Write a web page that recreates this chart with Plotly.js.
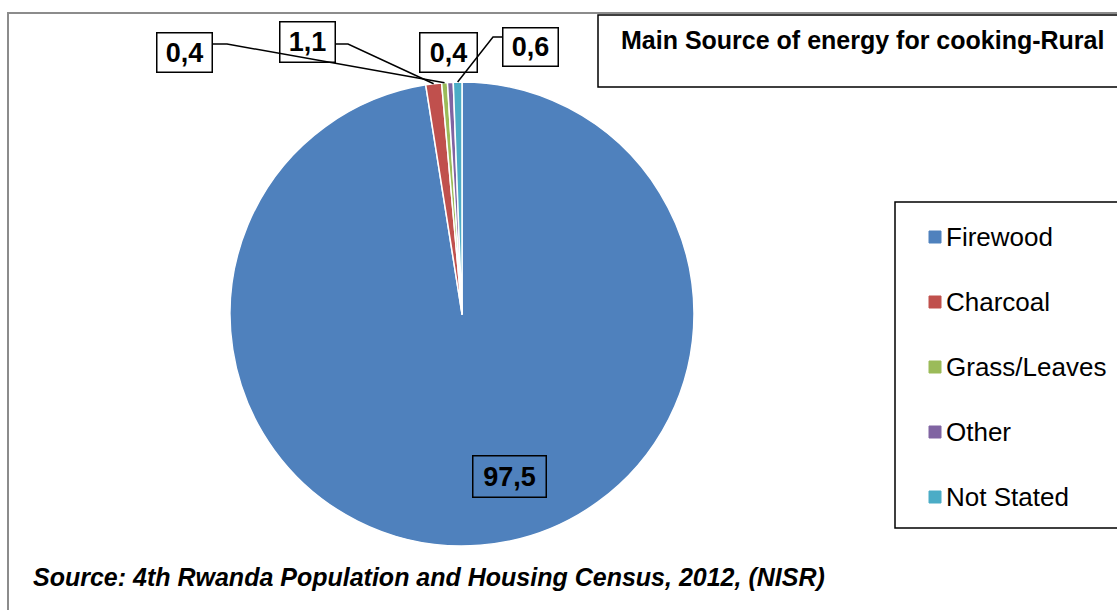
<!DOCTYPE html>
<html>
<head>
<meta charset="utf-8">
<script src="https://cdn.plot.ly/plotly-3.0.1.min.js"></script>
<style>html,body{margin:0;padding:0;background:#fff;}#chart{width:1117px;height:610px;}</style>
</head>
<body>
<div id="chart"></div>
<script>
// ---- data ----
const categories = ['Firewood', 'Charcoal', 'Grass/Leaves', 'Other', 'Not Stated'];
const values = [97.5, 1.1, 0.4, 0.4, 0.6];
const colors = ['#4F81BD', '#C0504D', '#9BBB59', '#8064A2', '#4BACC6'];
const titleText = 'Main Source of energy for cooking-Rural';
const sourceText = 'Source: 4th Rwanda Population and Housing Census, 2012, (NISR)';

// ---- layout (pixel positions) ----
const W = 1117, H = 610;
const pieCx = 462, pieCy = 314, pieR = 232;
const labelBoxX = [509.5, 307, 184, 448, 530];
const labelBoxY = [476, 42, 52, 52, 47];
const labelW = [70, 52, 52, 54, 52];
const labelH = [38, 37, 36, 36, 35];
// leader line start (box edge) and elbow points; null = no leader
const leaderStart = [null, [335, 44], [213, 44], null, [503, 37]];
const leaderElbow = [null, [348, 44], [227, 44], null, [493, 37]];

const px = x => x / W;
const py = y => 1 - y / H;
const fmt = v => String(v).replace('.', ',');
const FONT = 'Liberation Sans, Arial, sans-serif';

const total = values.reduce((a, b) => a + b, 0);
let cum = 0;
const annotations = [];
const shapes = [
  {type: 'rect', xref: 'paper', yref: 'paper', x0: px(8), y0: py(13), x1: px(1130), y1: py(625),
   line: {color: '#8c8c8c', width: 2}, fillcolor: 'rgba(0,0,0,0)', layer: 'below'},
  {type: 'rect', xref: 'paper', yref: 'paper', x0: px(598), y0: py(15), x1: px(1125), y1: py(87),
   line: {color: '#000', width: 1.5}, fillcolor: 'rgba(0,0,0,0)'},
  {type: 'rect', xref: 'paper', yref: 'paper', x0: px(895), y0: py(202), x1: px(1125), y1: py(528),
   line: {color: '#000', width: 1.5}, fillcolor: 'rgba(0,0,0,0)'}
];

values.forEach((v, i) => {
  const theta = 2 * Math.PI * (cum + v / 2) / total;
  cum += v;
  const tipX = pieCx + pieR * Math.sin(theta);
  const tipY = pieCy - pieR * Math.cos(theta);
  annotations.push({
    text: fmt(v),
    font: {family: FONT, size: 27, color: '#000', weight: 'bold'},
    bordercolor: '#000', borderwidth: 1.5, borderpad: 1,
    width: labelW[i], height: labelH[i], align: 'center', valign: 'middle',
    xref: 'paper', yref: 'paper', x: px(labelBoxX[i]), y: py(labelBoxY[i]),
    xanchor: 'center', yanchor: 'middle', showarrow: false
  });
  if (leaderStart[i]) {
    const s = leaderStart[i], e = leaderElbow[i];
    shapes.push({type: 'path', xref: 'paper', yref: 'paper',
      path: `M ${px(s[0])} ${py(s[1])} L ${px(e[0])} ${py(e[1])} L ${px(tipX)} ${py(tipY)}`,
      line: {color: '#000', width: 1.5}});
  }
});

// title
annotations.push({
  xref: 'paper', yref: 'paper', x: px(619), y: py(40), xanchor: 'left', yanchor: 'middle',
  text: titleText, showarrow: false,
  font: {family: FONT, size: 25, color: '#000', weight: 'bold'}
});
// source
annotations.push({
  xref: 'paper', yref: 'paper', x: px(31), y: py(577), xanchor: 'left', yanchor: 'middle',
  text: sourceText, showarrow: false,
  font: {family: FONT, size: 25, color: '#000', weight: 'bold', style: 'italic'}
});

// legend (drawn manually for Excel-like spacing)
const legX = 929, legY0 = 237, legStep = 65, sym = 12;
categories.forEach((c, i) => {
  const y = legY0 + legStep * i;
  shapes.push({type: 'rect', xref: 'paper', yref: 'paper',
    x0: px(legX), x1: px(legX + sym), y0: py(y - sym / 2), y1: py(y + sym / 2),
    fillcolor: colors[i], line: {color: colors[i], width: 1}});
  annotations.push({xref: 'paper', yref: 'paper', x: px(legX + sym + 3), y: py(y),
    xanchor: 'left', yanchor: 'middle', text: c, showarrow: false,
    font: {family: FONT, size: 26, color: '#000'}});
});

const data = [{
  type: 'pie',
  labels: categories,
  values: values,
  sort: false,
  direction: 'clockwise',
  rotation: 0,
  textinfo: 'none',
  hoverinfo: 'label+value',
  marker: {colors: colors, line: {color: '#fff', width: 1.5}},
  domain: {x: [px(pieCx - pieR), px(pieCx + pieR)], y: [py(pieCy + pieR), py(pieCy - pieR)]},
  showlegend: false
}];

const layout = {
  width: W, height: H,
  margin: {l: 0, r: 0, t: 0, b: 0},
  paper_bgcolor: '#fff',
  showlegend: false,
  annotations: annotations,
  shapes: shapes
};

Plotly.newPlot('chart', data, layout, {displayModeBar: false, staticPlot: true});
</script>
</body>
</html>
